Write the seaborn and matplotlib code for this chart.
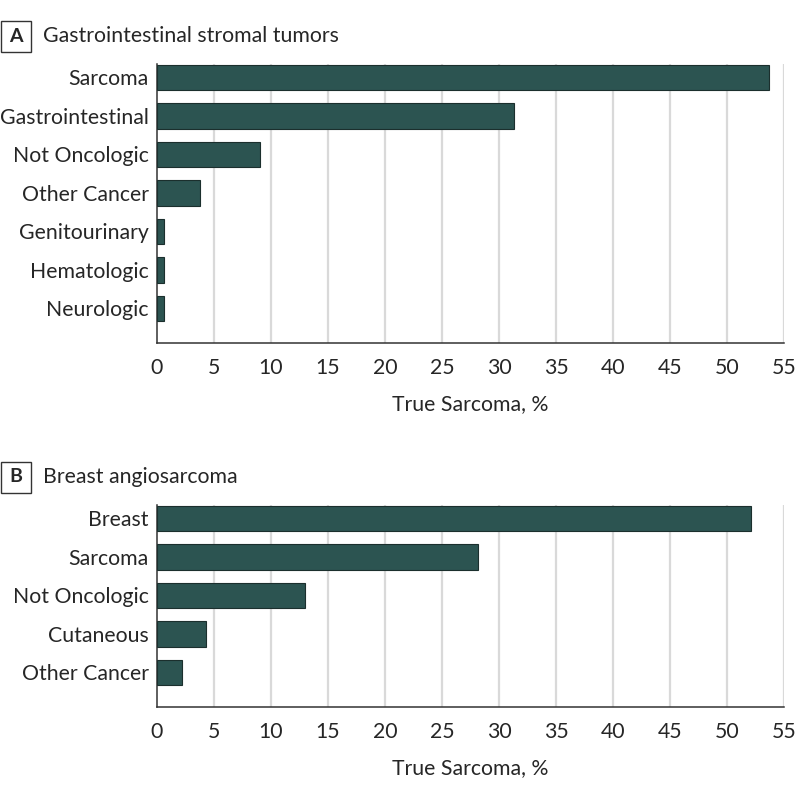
import pandas as pd
import matplotlib.pyplot as plt
import seaborn as sns
from matplotlib.patches import Rectangle

# panel A - gastrointestinal stromal tumors
gist_cats = ['Sarcoma', 'Gastrointestinal', 'Not Oncologic', 'Other Cancer',
             'Genitourinary', 'Hematologic', 'Neurologic']
gist_vals = [53.7, 31.3, 9.0, 3.8, 0.6, 0.6, 0.6]

# panel B - breast angiosarcoma
breast_cats = ['Breast', 'Sarcoma', 'Not Oncologic', 'Cutaneous', 'Other Cancer']
breast_vals = [52.1, 28.2, 13.0, 4.3, 2.2]

xticks = list(range(0, 60, 5))

sns.set_style('white')
plt.rcParams['font.family'] = ['Lato', 'DejaVu Sans']

bar_color = '#2c5451'
W, H = 798, 791
fs = 15.3

fig = plt.figure(figsize=(W / 100, H / 100), dpi=100)


def panel(top_px, cats, vals, letter, title):
    n = len(cats)
    bottom_px = top_px + (n + 0.25) * 38.5
    ax = fig.add_axes([157 / W, 1 - bottom_px / H, (784 - 157) / W, (bottom_px - top_px) / H])
    df = pd.DataFrame({'cat': cats, 'val': vals})
    sns.barplot(data=df, x='val', y='cat', ax=ax, color=bar_color, saturation=1,
                width=0.67, edgecolor='#1b2f2d', linewidth=0.8, zorder=3)
    ax.set_xlim(0, 55)
    ax.set_ylim(n - 0.1, -0.35)
    ax.set_xticks(xticks)
    ax.set_xticklabels([str(t) for t in xticks], fontsize=fs)
    ax.tick_params(axis='x', length=5, width=1, color='#333333', pad=6)
    ax.tick_params(axis='y', length=0, pad=6, labelsize=fs)
    for t in xticks[1:]:
        ax.axvline(t, color='#d9d9d9', lw=1.6, zorder=1)
    ax.grid(False)
    for s in ['top', 'right']:
        ax.spines[s].set_visible(False)
    for s in ['left', 'bottom']:
        ax.spines[s].set_color('#333333')
        ax.spines[s].set_linewidth(1.1)
    ax.set_ylabel('')
    ax.set_xlabel('True Sarcoma, %', fontsize=fs, labelpad=11)

    # panel letter box and title
    fy = 1 - (top_px - 28) / H
    fig.patches.append(Rectangle((1 / W, fy - 15.5 / H), 30 / W, 31 / H, transform=fig.transFigure,
                                 fill=False, edgecolor='#333333', lw=1))
    fig.text(16 / W, fy, letter, ha='center', va='center', fontsize=14, fontweight='bold')
    fig.text(43 / W, fy, title, ha='left', va='center', fontsize=fs)
    return ax


panel(64, gist_cats, gist_vals, 'A', 'Gastrointestinal stromal tumors')
panel(505, breast_cats, breast_vals, 'B', 'Breast angiosarcoma')

plt.savefig('out.png', dpi=100)
